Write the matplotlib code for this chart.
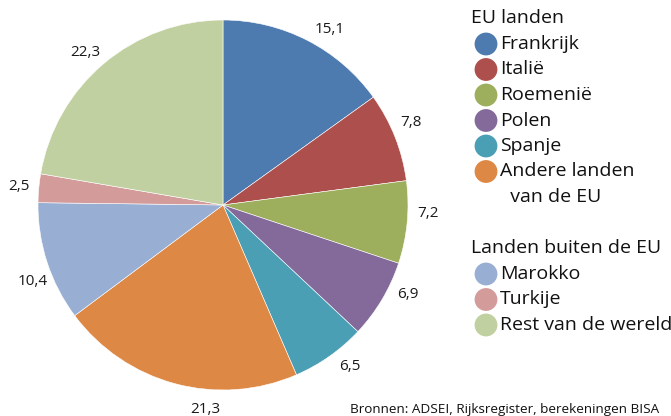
import numpy as np
import matplotlib.pyplot as plt

plt.rcParams['font.family'] = ['Open Sans', 'DejaVu Sans']

# ---------- Dados ---------- #
landen = ['Frankrijk', 'Italië', 'Roemenië', 'Polen', 'Spanje',
          'Andere landen\n  van de EU', 'Marokko', 'Turkije', 'Rest van de wereld']
aandeel = [15.1, 7.8, 7.2, 6.9, 6.5, 21.3, 10.4, 2.5, 22.3]
kleuren = ['#4e7baf', '#ad504d', '#9daf5d', '#836a9b', '#4a9fb5',
           '#dd8844', '#98aed3', '#d39c9b', '#c1d0a0']
groep_titels = ['EU landen', 'Landen buiten de EU']
groep_n = [6, 3]
bron = 'Bronnen: ADSEI, Rijksregister, berekeningen BISA'

# ajuste fino do ângulo dos rótulos (graus)
AJUSTE_ANG = [-4, 2, 3, 5, 3, 10, 4, 0, 2]
LABEL_R = 1.11

W, H = 671, 416
fig = plt.figure(figsize=(W / 100, H / 100), dpi=100)

# pie: centro (223, 205), raio 185 px
cx, cy, r = 223, 205, 185
ax = fig.add_axes([(cx - r) / W, (H - cy - r) / H, 2 * r / W, 2 * r / H])
wedges, _ = ax.pie(aandeel, colors=kleuren, startangle=90, counterclock=False,
                   wedgeprops=dict(linewidth=0.4, edgecolor='white'))
ax.set_xlim(-1, 1)
ax.set_ylim(-1, 1)
ax.set_aspect('equal')

for w, v, d in zip(wedges, aandeel, AJUSTE_ANG):
    ang = np.deg2rad((w.theta1 + w.theta2) / 2 + d)
    ax.text(LABEL_R * np.cos(ang), LABEL_R * np.sin(ang), f'{v:.1f}'.replace('.', ','),
            ha='center', va='center', fontsize=11, color='#1a1a1a', clip_on=False)

# ---------- Legenda manual ---------- #
lax = fig.add_axes([0, 0, 1, 1])
lax.set_xlim(0, W)
lax.set_ylim(H, 0)
lax.axis('off')

FS = 14
y = 18
idx = 0
for g, titel in enumerate(groep_titels):
    if g == 1:
        y = 248
    lax.text(471, y, titel, fontsize=FS, va='center', ha='left', color='#111111')
    y += 26
    for k in range(groep_n[g]):
        lax.scatter(486, y, s=270, color=kleuren[idx], edgecolors='none')
        if '\n' in landen[idx]:
            l1, l2 = landen[idx].split('\n')
            lax.text(500, y, l1, fontsize=FS, va='center', ha='left', color='#111111')
            y += 25.5
            lax.text(500, y, l2, fontsize=FS, va='center', ha='left', color='#111111')
        else:
            lax.text(500, y, landen[idx], fontsize=FS, va='center', ha='left', color='#111111')
        y += 25.5
        idx += 1

lax.text(350, 409, bron, fontsize=9.7, va='center', ha='left', color='#111111')

fig.savefig('out.png', dpi=100)
